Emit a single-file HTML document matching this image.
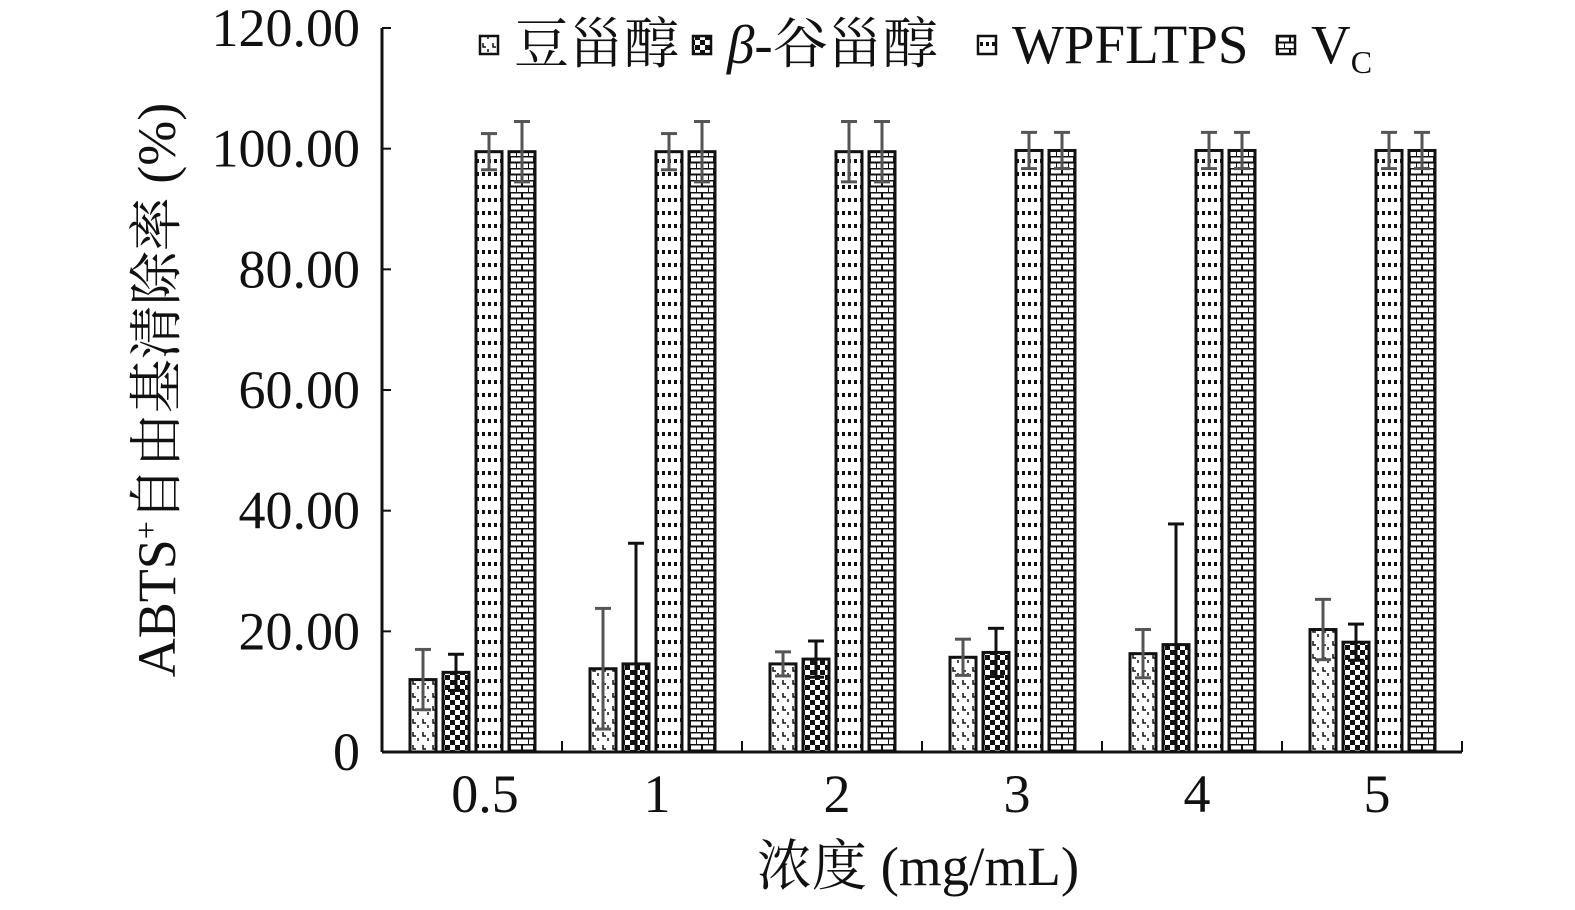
<!DOCTYPE html>
<html><head><meta charset="utf-8"><style>
body{margin:0;background:#fff}
svg text{font-family:"Liberation Serif","Noto Serif CJK SC",serif;fill:#111}
</style></head><body>
<svg width="1575" height="905" xmlns="http://www.w3.org/2000/svg">
<defs>
<pattern id="p0" width="10" height="13" patternUnits="userSpaceOnUse"><rect width="10" height="13" fill="#fff"/><path d="M3 4v4h3M8 10v3" stroke="#111" stroke-width="1.5" fill="none"/></pattern>
<pattern id="p1" width="10" height="10" patternUnits="userSpaceOnUse"><rect width="10" height="10" fill="#fff"/><rect width="5" height="5" fill="#111"/><rect x="5" y="5" width="5" height="5" fill="#111"/></pattern>
<pattern id="p2" width="12" height="13" patternUnits="userSpaceOnUse"><rect width="12" height="13" fill="#fff"/><rect x="2" y="3" width="3" height="4" fill="#111"/><rect x="8" y="3" width="3" height="4" fill="#111"/></pattern>
<pattern id="p3" width="12" height="12" patternUnits="userSpaceOnUse"><rect width="12" height="12" fill="#fff"/><path d="M0 0.5H12M0 6.5H12M6 0V6M0 6V12" stroke="#111" stroke-width="2"/></pattern>
</defs>
<g id="axes"></g><g id="bars"></g><g id="legend"></g>
<text x="175" y="390" font-size="54" text-anchor="middle" transform="rotate(-90 175 390)">ABTS<tspan font-size="32" dy="-18">+</tspan><tspan dy="18">自由基清除率 (%)</tspan></text>
<text x="918" y="885" font-size="55" text-anchor="middle">浓度 (mg/mL)</text>
</svg>
<script>
const categories=["0.5","1","2","3","4","5"];
const seriesNames=["豆甾醇","β-谷甾醇","WPFLTPS","VC"];
const s0=[12,13.8,14.6,15.7,16.3,20.3];
const s1=[13.2,14.6,15.4,16.5,17.8,18.2];
const s2=[99.5,99.5,99.5,99.7,99.7,99.7];
const s3=[99.5,99.5,99.5,99.7,99.7,99.7];
const e0=[5,10,2,3,4,5];
const e1=[3,20,3,4,20,3];
const e2=[3,3,5,3,3,3];
const e3=[5,5,5,3,3,3];
const yTicks=[0,20,40,60,80,100,120];
const yTickLabels=["0","20.00","40.00","60.00","80.00","100.00","120.00"];
const NS="http://www.w3.org/2000/svg";
const y=v=>752-v*(752-28)/120;
const x0=382,gw=180;
function mk(t,a,p){const e=document.createElementNS(NS,t);for(const k in a)e.setAttribute(k,a[k]);p.appendChild(e);return e;}
const ax=document.getElementById('axes');
const yl=mk('line',{x1:x0,y1:28,x2:x0,y2:752,stroke:'#111','stroke-width':3},ax);


const xl=mk('line',{x1:x0,y1:752,x2:x0+gw*6,y2:752,stroke:'#111','stroke-width':3},ax);


yTicks.forEach((v,i)=>{
 mk('line',{x1:x0,y1:y(v),x2:x0+9,y2:y(v),stroke:'#111','stroke-width':2},ax);
 const t=mk('text',{x:360,y:y(v)+18,'font-size':54,'text-anchor':'end'},ax);t.textContent=yTickLabels[i];
 
 
});
categories.forEach((c,i)=>{
 mk('line',{x1:x0+gw*(i+1),y1:752,x2:x0+gw*(i+1),y2:741,stroke:'#111','stroke-width':2},ax);
 const t=mk('text',{x:x0+gw*i+gw/2+(i==0?13:5),y:812,'font-size':54,'text-anchor':'middle'},ax);t.textContent=c;
 
 
});
const bg=document.getElementById('bars');
const S=[s0,s1,s2,s3],E=[e0,e1,e2,e3];
const ecol=["#555","#111","#555","#555"];
categories.forEach((c,i)=>{
 for(let s=0;s<4;s++){
  const bx=x0+gw*i+28+s*33, v=S[s][i];
  const r=mk('rect',{x:bx,y:y(v),width:26,height:752-y(v),fill:`url(#p${s})`,stroke:'#111','stroke-width':3},bg);
  
  
  const cx=bx+13,col=ecol[s],lo=Math.max(0,v-E[s][i]);
  const g=mk('g',{stroke:col,'stroke-width':3},bg);
  
  
  mk('line',{x1:cx,y1:y(v+E[s][i]),x2:cx,y2:y(lo)},g);
  mk('line',{x1:cx-8,y1:y(v+E[s][i]),x2:cx+8,y2:y(v+E[s][i])},g);
  if(lo>0) mk('line',{x1:cx-8,y1:y(lo),x2:cx+8,y2:y(lo)},g);
 }
});
const lg=document.getElementById('legend');
const lx=[480,693,978,1277];
seriesNames.forEach((n,s)=>{
 const r=mk('rect',{x:lx[s],y:36,width:18,height:18,fill:`url(#p${s})`,stroke:'#111','stroke-width':2.5},lg);
 
 
 const t=mk('text',{x:lx[s]+34,y:63,'font-size':55},lg);
 
 
 if(s==1){t.innerHTML='<tspan font-style="italic">β</tspan>-谷甾醇';}
 else if(s==3){t.innerHTML='V<tspan font-size="32" dy="10">C</tspan>';}
 else t.textContent=n;
});
</script>
</body></html>
